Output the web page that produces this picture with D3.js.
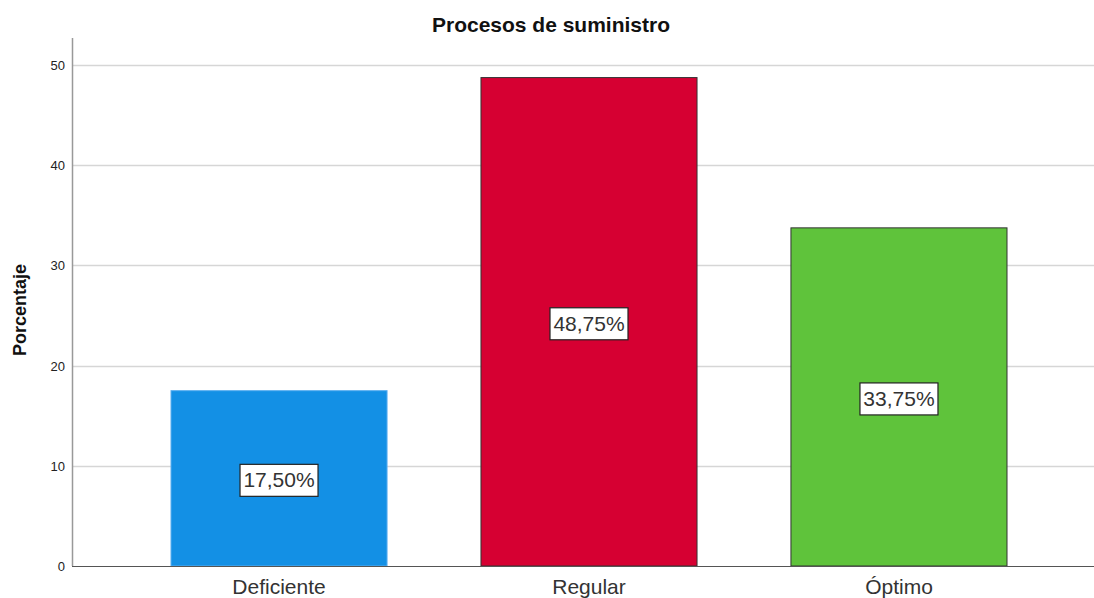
<!DOCTYPE html>
<meta charset="utf-8">
<style>
body { margin: 0; background: #fff; }
text { font-family: "Liberation Sans", Arial, sans-serif; }
.grid line { stroke: #d6d6d6; stroke-width: 1.5; }
</style>
<svg width="1094" height="598"></svg>
<script src="https://cdn.jsdelivr.net/npm/d3@7"></script>
<script>

var categories = ["Deficiente", "Regular", "Óptimo"];
var values = [17.50, 48.75, 33.75];
var barColors = ["#1390e5", "#d60032", "#5fc33b"];
var yTicks = [0, 10, 20, 30, 40, 50];

var svg = d3.select("svg"),
    plotLeft = 72, plotRight = 1094, plotTop = 38, plotBottom = 566;

var x = d3.scaleBand()
    .domain(categories)
    .range([171, 1007])
    .paddingInner(0.303)
    .paddingOuter(0);

var y = d3.scaleLinear()
    .domain([0, 52.7])
    .range([plotBottom, plotTop]);

// gridlines
svg.append("g")
    .attr("class", "grid")
    .selectAll("line")
    .data(yTicks.slice(1))
    .enter().append("line")
    .attr("x1", plotLeft)
    .attr("x2", plotRight)
    .attr("y1", function(d) { return Math.round(y(d)) + 0.5; })
    .attr("y2", function(d) { return Math.round(y(d)) + 0.5; });

// bars
svg.append("g")
    .selectAll("rect")
    .data(values)
    .enter().append("rect")
    .attr("x", function(d, i) { return x(categories[i]); })
    .attr("y", function(d) { return y(d); })
    .attr("width", x.bandwidth())
    .attr("height", function(d) { return plotBottom - y(d); })
    .attr("fill", function(d, i) { return barColors[i]; })
    .attr("stroke", function(d, i) { return i == 0 ? "#5aaef0" : "#333"; })
    .attr("stroke-width", 1);

// axes
svg.append("line")
    .attr("x1", plotLeft + 0.5).attr("x2", plotLeft + 0.5)
    .attr("y1", plotTop).attr("y2", plotBottom)
    .attr("stroke", "#999").attr("stroke-width", 1.5);

svg.append("line")
    .attr("x1", plotLeft).attr("x2", plotRight)
    .attr("y1", plotBottom + 0.5).attr("y2", plotBottom + 0.5)
    .attr("stroke", "#555").attr("stroke-width", 1.2);

svg.append("g")
    .selectAll("text")
    .data(yTicks)
    .enter().append("text")
    .attr("x", 65)
    .attr("y", function(d) { return y(d) + 5; })
    .attr("text-anchor", "end")
    .attr("font-size", 13)
    .attr("fill", "#222")
    .text(function(d) { return d; });

svg.append("g")
    .selectAll("text")
    .data(categories)
    .enter().append("text")
    .attr("x", function(d) { return x(d) + x.bandwidth() / 2; })
    .attr("y", 594)
    .attr("text-anchor", "middle")
    .attr("font-size", 21)
    .attr("fill", "#333")
    .text(function(d) { return d; });

// value labels
var lab = svg.append("g")
    .selectAll("g")
    .data(values)
    .enter().append("g")
    .attr("transform", function(d, i) {
      return "translate(" + (x(categories[i]) + x.bandwidth() / 2) + "," + y(d / 2) + ")";
    });

lab.append("rect")
    .attr("x", -39).attr("y", -14)
    .attr("width", 78).attr("height", 32)
    .attr("fill", "#fff")
    .attr("stroke", "#222")
    .attr("stroke-width", 1.2);

lab.append("text")
    .attr("text-anchor", "middle")
    .attr("y", 9)
    .attr("font-size", 21)
    .attr("fill", "#333")
    .text(function(d) { return d3.format(".2f")(d).replace(".", ",") + "%"; });

// titles
svg.append("text")
    .attr("x", 551)
    .attr("y", 32)
    .attr("text-anchor", "middle")
    .attr("font-size", 21)
    .attr("font-weight", "bold")
    .attr("fill", "#111")
    .text("Procesos de suministro");

svg.append("text")
    .attr("transform", "translate(26,310) rotate(-90)")
    .attr("text-anchor", "middle")
    .attr("font-size", 18)
    .attr("font-weight", "bold")
    .attr("fill", "#111")
    .text("Porcentaje");

</script>
